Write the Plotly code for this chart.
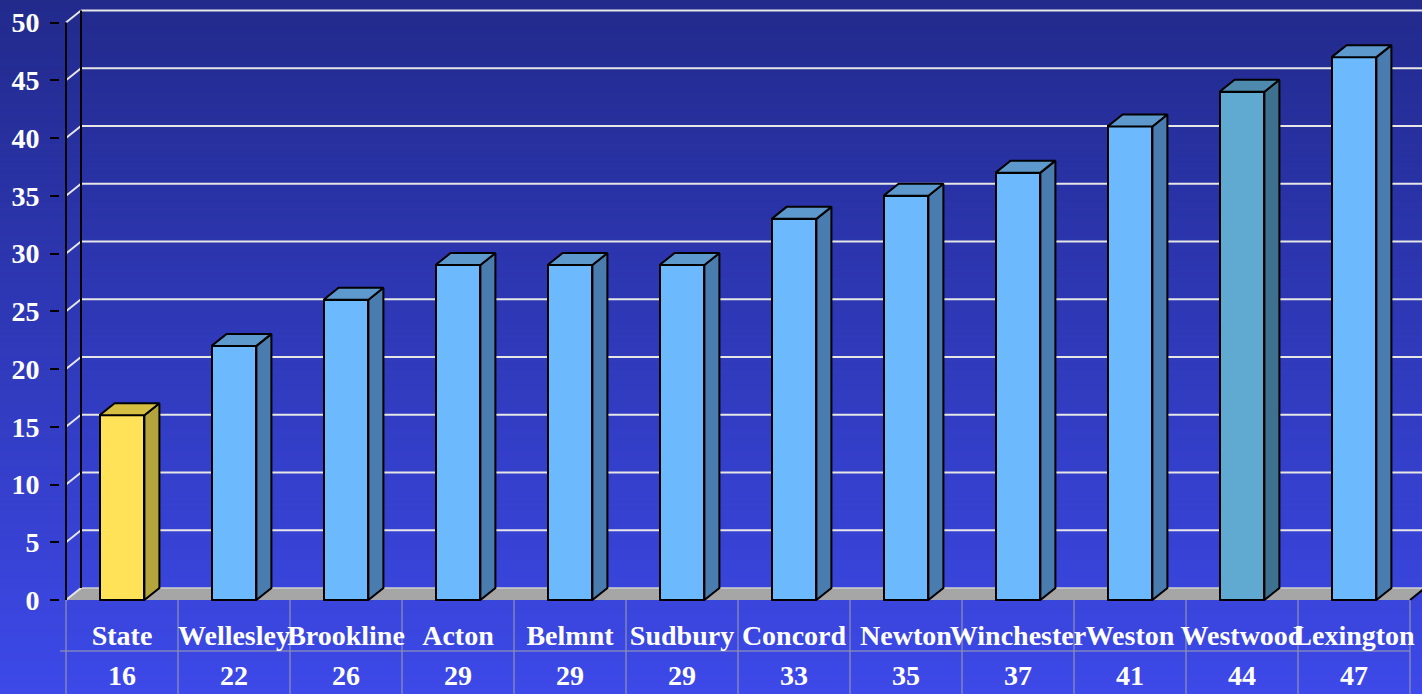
import plotly.graph_objects as go

# ---- data ----
categories = ["State", "Wellesley", "Brookline", "Acton", "Belmnt", "Sudbury",
              "Concord", "Newton", "Winchester", "Weston", "Westwood", "Lexington"]
values = [16, 22, 26, 29, 29, 29, 33, 35, 37, 41, 44, 47]
y_ticks = [0, 5, 10, 15, 20, 25, 30, 35, 40, 45, 50]

# ---- styles ----
W, H = 1422, 694
ML = 60
PX_X = 112.0          # pixels per category
PX_Y = 11.55          # pixels per value unit
ZERO_PX = 600.0       # pixel row of value 0
AXIS_PX = 66.0        # pixel column of front axis
xmin = -0.5 - (AXIS_PX - ML) / PX_X
xmax = xmin + (W - ML) / PX_X
ymin = -(H - ZERO_PX) / PX_Y
ymax = ZERO_PX / PX_Y
DX = 15 / PX_X
DY = 12 / PX_Y
BW = 0.4
FONT = "Times New Roman, Liberation Serif, serif"
FS = 28

front_col = {"State": "#FFE257", "Westwood": "#60AAD2"}
side_col = {"State": "#B3A43C", "Westwood": "#3E7090"}
top_col = {"State": "#D5BE42", "Westwood": "#4D8AAE"}
def_front, def_side, def_top = "#6CB9FE", "#4A7CB0", "#5E99CE"

def v_of(px):
    return (ZERO_PX - px) / PX_Y

fig = go.Figure()

# front faces
fig.add_trace(go.Bar(
    x=list(range(len(categories))), y=values, width=BW,
    marker=dict(color=[front_col.get(c, def_front) for c in categories],
                line=dict(color="black", width=2)),
    hoverinfo="skip", showlegend=False))

# side and top faces derived from the values
for i, (c, v) in enumerate(zip(categories, values)):
    x1 = i + BW / 2
    x0 = i - BW / 2
    fig.add_trace(go.Scatter(
        x=[x1, x1 + DX, x1 + DX, x1, x1], y=[0, DY, v + DY, v, 0],
        fill="toself", fillcolor=side_col.get(c, def_side), mode="lines",
        line=dict(color="black", width=2), hoverinfo="skip", showlegend=False))
    fig.add_trace(go.Scatter(
        x=[x0, x0 + DX, x1 + DX, x1, x0], y=[v, v + DY, v + DY, v, v],
        fill="toself", fillcolor=top_col.get(c, def_top), mode="lines",
        line=dict(color="black", width=2), hoverinfo="skip", showlegend=False))

# data table text
n = len(categories)
fig.add_trace(go.Scatter(
    x=list(range(n)), y=[v_of(638)] * n, text=categories, mode="text",
    textfont=dict(family=FONT, size=FS, color="white", weight=700),
    hoverinfo="skip", showlegend=False, cliponaxis=False))
fig.add_trace(go.Scatter(
    x=list(range(n)), y=[v_of(678)] * n, text=[str(v) for v in values], mode="text",
    textfont=dict(family=FONT, size=FS, color="white", weight=700),
    hoverinfo="skip", showlegend=False, cliponaxis=False))

shapes = []
# background gradient
top_rgb = (0x22, 0x2A, 0x8C)
bot_rgb = (0x3D, 0x49, 0xE8)
NB = 120
for k in range(NB):
    t = k / (NB - 1)
    col = tuple(round(top_rgb[j] + (bot_rgb[j] - top_rgb[j]) * t) for j in range(3))
    shapes.append(dict(type="rect", xref="paper", yref="paper",
                       x0=-ML / (W - ML), x1=1.0,
                       y0=1 - (k + 1) / NB - 0.001, y1=1 - k / NB + 0.001,
                       fillcolor="rgb(%d,%d,%d)" % col, line=dict(width=0),
                       layer="below"))

xa = -0.5
xend = 11.5
# back wall gridlines + diagonal connectors
for t in y_ticks[1:]:
    shapes.append(dict(type="line", x0=xa + DX, x1=xmax, y0=t + DY, y1=t + DY,
                       line=dict(color="#E6E6E6", width=2), layer="below"))
    shapes.append(dict(type="line", x0=xa, x1=xa + DX, y0=t, y1=t + DY,
                       line=dict(color="#E6E6E6", width=2), layer="below"))
# floor
shapes.append(dict(type="path",
                   path=f"M {xa},0 L {xend},0 L {xend + DX},{DY} L {xa + DX},{DY} Z",
                   fillcolor="#A6A6A6", line=dict(width=0), layer="below"))
shapes.append(dict(type="line", x0=xa + DX, x1=xmax, y0=DY, y1=DY,
                   line=dict(color="#CFCFCF", width=1.5), layer="below"))
shapes.append(dict(type="line", x0=xa, x1=xa + DX, y0=0, y1=DY,
                   line=dict(color="#E6E6E6", width=2), layer="below"))
shapes.append(dict(type="line", x0=xend, x1=xend + DX, y0=0, y1=DY,
                   line=dict(color="black", width=2), layer="below"))
# walls' vertical edges
shapes.append(dict(type="line", x0=xa + DX, x1=xa + DX, y0=DY, y1=50 + DY,
                   line=dict(color="black", width=2), layer="below"))
shapes.append(dict(type="line", x0=xa, x1=xa, y0=0, y1=50,
                   line=dict(color="black", width=2), layer="below"))

# table grid
grid = dict(color="#A0A0A8", width=1)
for i in range(n + 1):
    shapes.append(dict(type="line", x0=i - 0.5, x1=i - 0.5, y0=0, y1=ymin,
                       line=grid, layer="below"))
x_left = xa - 12 / PX_X
shapes.append(dict(type="line", x0=x_left, x1=xend, y0=v_of(651), y1=v_of(651),
                   line=grid, layer="below"))
shapes.append(dict(type="line", x0=x_left, x1=x_left, y0=v_of(651), y1=ymin,
                   line=grid, layer="below"))

fig.update_layout(
    width=W, height=H,
    margin=dict(l=ML, r=0, t=0, b=0, autoexpand=False),
    paper_bgcolor="#2F39BA", plot_bgcolor="rgba(0,0,0,0)",
    shapes=shapes, showlegend=False, bargap=0,
    xaxis=dict(range=[xmin, xmax], visible=False, fixedrange=True, automargin=False),
    yaxis=dict(range=[ymin, ymax], tickvals=y_ticks, ticks="outside", ticklen=9,
               tickwidth=2, tickcolor="black", showgrid=False, zeroline=False,
               showline=False, ticklabelstandoff=5, automargin=False,
               tickfont=dict(family=FONT, size=FS, color="white", weight=700),
               fixedrange=True),
)

fig.write_html(
    "out.html",
    config={"displayModeBar": False},
    post_script="document.body.style.margin='0';document.body.style.overflow='hidden';",
)
